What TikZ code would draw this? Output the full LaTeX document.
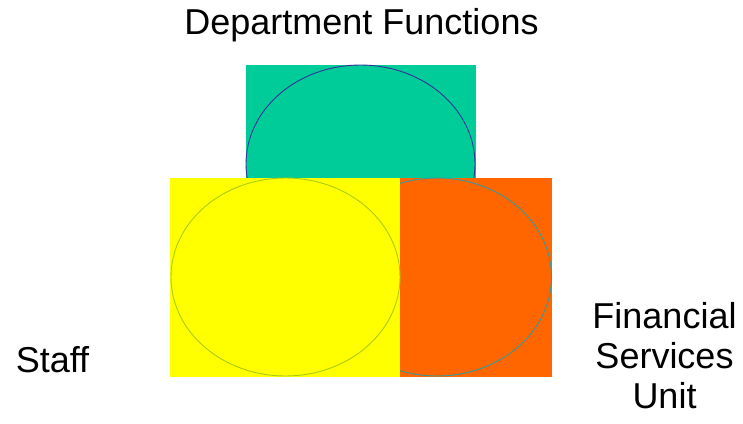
\documentclass[tikz,border=0pt]{standalone}
\usepackage{fontspec}
\setmainfont{Liberation Sans}
\usetikzlibrary{shapes.geometric}
\definecolor{dgreen}{HTML}{00CC99}
\definecolor{dyellow}{HTML}{FFFF00}
\definecolor{dorange}{HTML}{FF6600}
\definecolor{sblue}{HTML}{333399}
\definecolor{sylw}{HTML}{A8CC10}
\definecolor{steal}{HTML}{339999}
\tikzset{
  block/.style={rectangle, inner sep=0pt, outer sep=0pt, draw=none},
  oval/.style={ellipse, inner sep=0pt, outer sep=0pt, minimum width=229pt, minimum height=198pt, line width=0.9pt},
  label/.style={font=\fontsize{36}{40}\selectfont, inner sep=0pt, anchor=base, align=center}
}
\begin{document}
\begin{tikzpicture}[x=1pt,y=-1pt]
\useasboundingbox[fill=white] (0,0) rectangle (743,423);
% green block
\node[block, fill=dgreen, minimum width=230pt, minimum height=130pt, anchor=north west] (gr) at (246,65) {};
\node[oval, draw=sblue] (ge) at (360.5,164) {};
% orange block
\node[block, fill=dorange, minimum width=152pt, minimum height=199pt, anchor=north west] (orr) at (400,178) {};
\node[oval, draw=steal] (oe) at (437,277) {};
% yellow block
\node[block, fill=dyellow, minimum width=230pt, minimum height=199pt, anchor=north west] (yr) at (170,178) {};
\node[oval, draw=sylw] (ye) at (285.5,277) {};
% labels
\node[label] (tdept) at (361.5,34) {Department Functions};
\node[label] (tstaff) at (52.5,372) {Staff};
\node[label, anchor=base] (tfin) at (664.5,408) {Financial\\Services\\Unit};
\end{tikzpicture}
\end{document}
